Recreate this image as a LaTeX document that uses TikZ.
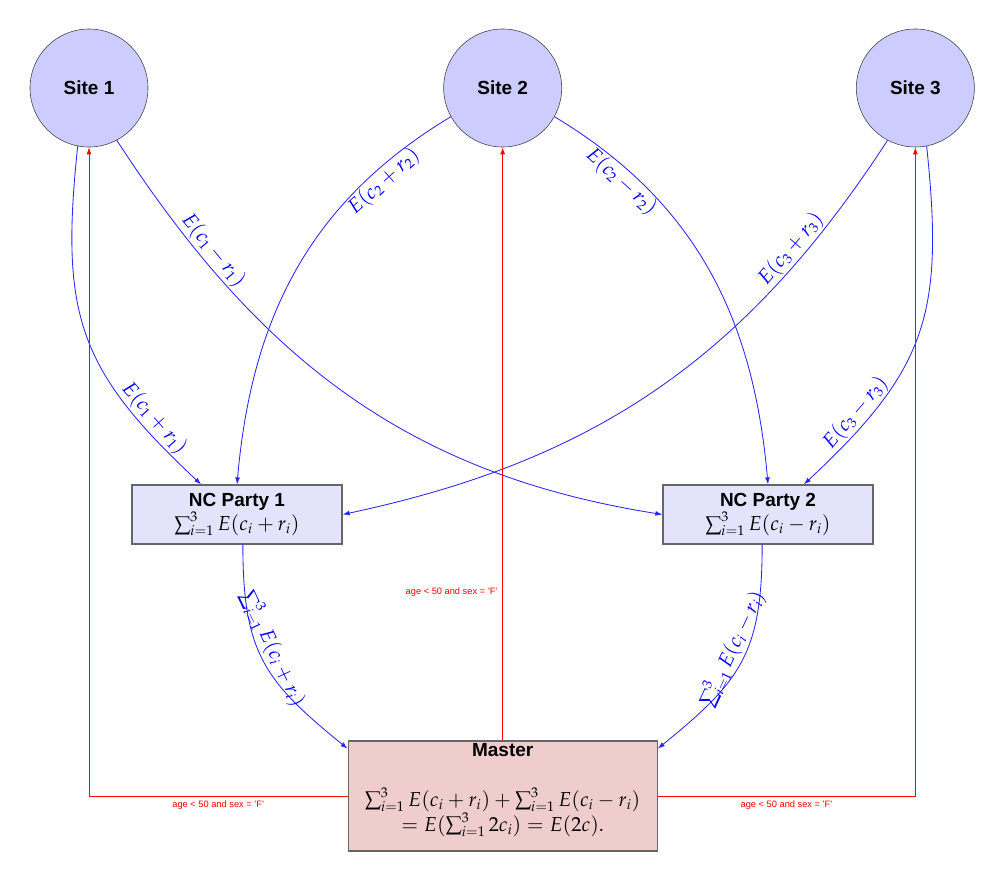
\documentclass[tikz,border=0pt]{standalone}
\usepackage{mathpazo}
\usepackage[no-math]{fontspec}
\setsansfont{Liberation Sans}
\usetikzlibrary{arrows.meta,positioning}
\definecolor{sitefill}{RGB}{204,204,255}
\definecolor{partyfill}{RGB}{227,227,252}
\definecolor{masterfill}{RGB}{240,205,205}
\tikzset{
    site/.style={circle, draw=black!75, fill=sitefill, minimum size=2.95cm, inner sep=0pt, font=\fontsize{13.5}{16}\selectfont\sffamily\bfseries},
    party/.style={rectangle, draw=black!60, fill=partyfill, line width=0.8pt, minimum width=5.25cm, minimum height=1.475cm, inner sep=1pt, align=center, font=\fontsize{14.4}{17}\selectfont},
    master/.style={rectangle, draw=black!60, fill=masterfill, line width=0.8pt, minimum width=7.725cm, minimum height=2.75cm, inner sep=1pt, align=center, font=\fontsize{14.4}{16.5}\selectfont},
    pil/.style={-{Latex[length=5pt,width=3.5pt]}, blue!85, line width=0.6pt},
    query/.style={-{Latex[length=5pt,width=3.5pt]}, red, line width=0.6pt},
    lbl/.style={sloped, blue, font=\fontsize{14.4}{16}\selectfont, inner sep=1.5pt},
    qlbl/.style={red, font=\fontsize{6.6}{8}\selectfont\sffamily}
}
\newcommand{\boxtitle}[1]{{\sffamily\bfseries\fontsize{13.5}{16}\selectfont #1}}

\begin{document}
\begin{tikzpicture}[x=0.025cm, y=0.025cm]
    \useasboundingbox (0,0) rectangle (1004,-880);

    % sites
    \node[site] (site1) at (89,-88) {Site 1};
    \node[site, right=7.375cm of site1] (site2) {Site 2};
    \node[site, right=7.35cm of site2] (site3) {Site 3};

    % non-colluding parties and master
    \node[party] (nc1) at (237,-514.5)
      {\boxtitle{NC Party 1}\\
      $\sum_{i=1}^{3} E(c_i+r_i)$};
    \node[party] (nc2) at (768,-514.5)
      {\boxtitle{NC Party 2}\\
      $\sum_{i=1}^{3} E(c_i-r_i)$};
    \node[master, below=14.825cm of site2] (master)
      {\boxtitle{Master}\\[19pt]
      $\sum_{i=1}^{3} E(c_i+r_i)+\sum_{i=1}^{3} E(c_i-r_i)$\\
      $=E(\sum_{i=1}^{3} 2c_i)=E(2c).$\\[-4pt]};

    % shares sent to the parties
    \draw[pil] (site1.-101) to[out=-96, in=137, looseness=1.2]
      node[lbl, pos=0.82, above] {$E(c_1+r_1)$} (nc1.140);
    \draw[pil] (site1.-62) to[out=-57, in=171]
      node[lbl, pos=0.2, above] {$E(c_1-r_1)$} (nc2.west);
    \draw[pil] (site2.-151) to[out=-149, in=85]
      node[lbl, pos=0.2, below] {$E(c_2+r_2)$} (nc1.north);
    \draw[pil] (site2.-29) to[out=-31, in=95]
      node[lbl, pos=0.2, below] {$E(c_2-r_2)$} (nc2.north);
    \draw[pil] (site3.-118) to[out=-123, in=12]
      node[lbl, pos=0.2, above] {$E(c_3+r_3)$} (nc1.east);
    \draw[pil] (site3.-79) to[out=-84, in=43, looseness=1.2]
      node[lbl, pos=0.8, above] {$E(c_3-r_3)$} (nc2.40);

    % sums sent to the master
    \draw[pil] (nc1.-79) to[out=-90, in=141, looseness=1.2]
      node[lbl, pos=0.46, above] {$\sum_{i=1}^{3} E(c_i+r_i)$} (master.163);
    \draw[pil] (nc2.-101) to[out=-90, in=39, looseness=1.2]
      node[lbl, pos=0.46, above] {$\sum_{i=1}^{3} E(c_i-r_i)$} (master.17);

    % query sent back to the sites
    \draw[query] (master.west) -|
      node[qlbl, pos=0.25, below] {age < 50 and sex = 'F'} (site1.south);
    \draw[query] (master.north) --
      node[qlbl, pos=0.25, left] {age < 50 and sex = 'F'} (site2.south);
    \draw[query] (master.east) -|
      node[qlbl, pos=0.25, below] {age < 50 and sex = 'F'} (site3.south);
\end{tikzpicture}
\end{document}
